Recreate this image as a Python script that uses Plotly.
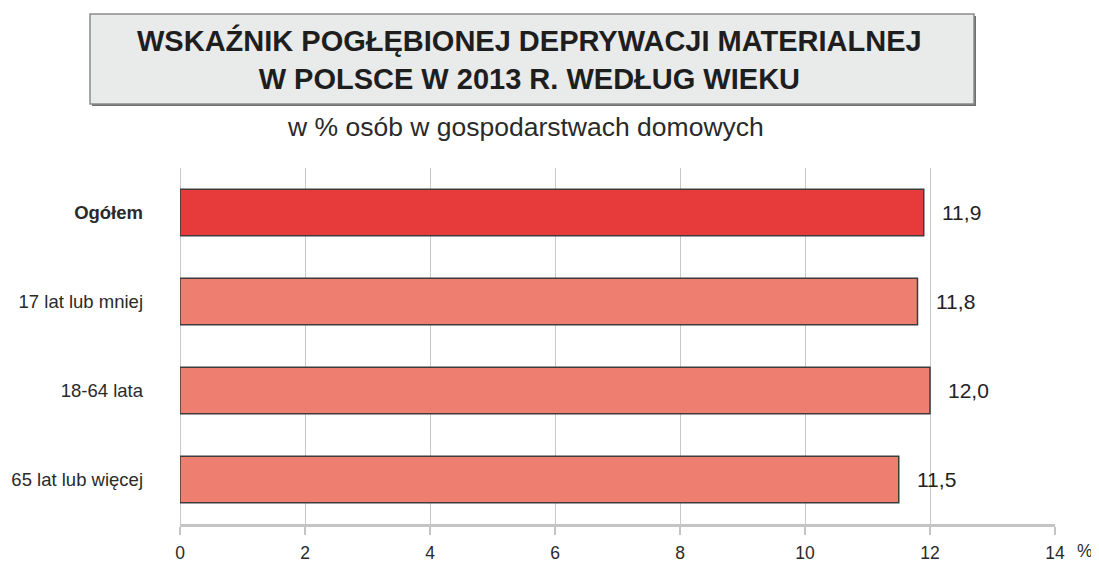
import plotly.graph_objects as go

# dane z wykresu
categories = ['Ogółem', '17 lat lub mniej', '18-64 lata', '65 lat lub więcej']
tick_labels = ['<b>Ogółem</b>', '17 lat lub mniej', '18-64 lata', '65 lat lub więcej']
values = [11.9, 11.8, 12.0, 11.5]
bar_colors = ['#e63b3a', '#ee7e6f', '#ee7e6f', '#ee7e6f']
x_ticks = [0, 2, 4, 6, 8, 10, 12, 14]

title_text = 'WSKAŹNIK POGŁĘBIONEJ DEPRYWACJI MATERIALNEJ<br>W POLSCE W 2013 R. WEDŁUG WIEKU'
subtitle_text = 'w % osób w gospodarstwach domowych'

# strona ma 8 px marginesu body, więc wykres jest odpowiednio mniejszy
OFF = 8
W, H = 1099 - OFF, 563 - OFF
m_l, m_r, m_t, m_b = 180 - OFF, 44, 168 - OFF, 39
plot_w = W - m_l - m_r
plot_h = H - m_t - m_b


def px_x(p):
    # piksel strony -> współrzędne paper
    return (p - OFF - m_l) / plot_w


def px_y(p):
    return (H - m_b - (p - OFF)) / plot_h


fig = go.Figure()

fig.add_trace(
    go.Bar(
        x=values,
        y=categories,
        orientation='h',
        width=0.52,
        marker=dict(color=bar_colors, line=dict(color='#3c3c3c', width=1.5)),
        hoverinfo='skip',
    )
)

# etykiety wartości
for cat, v in zip(categories, values):
    fig.add_annotation(
        x=v, y=cat, xref='x', yref='y',
        text=f'{v:.1f}'.replace('.', ','),
        showarrow=False, xanchor='left', xshift=16,
        font=dict(size=21, color='#222222'),
    )

# ramka tytułu z cieniem
fig.add_shape(type='rect', xref='paper', yref='paper',
              x0=px_x(92), x1=px_x(976), y0=px_y(106), y1=px_y(16),
              fillcolor='#6e6e6e', line=dict(width=0), layer='below')
fig.add_shape(type='rect', xref='paper', yref='paper',
              x0=px_x(90), x1=px_x(974), y0=px_y(104), y1=px_y(14),
              fillcolor='#e9eaea', line=dict(color='#8c8c8c', width=1.5), layer='below')

fig.add_annotation(
    x=px_x(529), y=px_y(59), xref='paper', yref='paper',
    text=f'<b>{title_text}</b>', showarrow=False,
    font=dict(size=29, color='#1e1e1e'), align='center',
    xanchor='center', yanchor='middle',
)
fig.add_annotation(
    x=px_x(525), y=px_y(127), xref='paper', yref='paper',
    text=subtitle_text, showarrow=False,
    font=dict(size=26.5, color='#2a2a2a'),
    xanchor='center', yanchor='middle',
)
fig.add_annotation(
    x=px_x(1075), y=px_y(551), xref='paper', yref='paper',
    text='%', showarrow=False, font=dict(size=17.5, color='#2a2a2a'),
    xanchor='left', yanchor='middle',
)

fig.update_layout(
    width=W, height=H,
    margin=dict(l=m_l, r=m_r, t=m_t, b=m_b, autoexpand=False),
    paper_bgcolor='white', plot_bgcolor='white',
    font=dict(family='Liberation Sans, Arial, sans-serif', color='#2a2a2a'),
    showlegend=False,
)

fig.update_xaxes(
    range=[0, 14],
    tickvals=x_ticks,
    ticktext=[str(t) for t in x_ticks],
    showgrid=True, gridcolor='#c8c8c8', gridwidth=1,
    zeroline=True, zerolinecolor='#c8c8c8', zerolinewidth=1,
    showline=True, linecolor='#c4c4c4', linewidth=3,
    ticks='outside', ticklen=8, tickcolor='#c4c4c4', tickwidth=1.5,
    tickfont=dict(size=17.5, color='#2a2a2a'),
    ticklabelstandoff=3,
    automargin=False,
    fixedrange=True,
)
fig.update_yaxes(
    categoryorder='array', categoryarray=categories,
    tickvals=categories, ticktext=tick_labels,
    range=[3.5, -0.5],
    showgrid=False, zeroline=False, showline=False,
    tickfont=dict(size=18.5, color='#2a2a2a'),
    ticks='', ticklabelstandoff=36,
    automargin=False,
    fixedrange=True,
)

fig.write_html("out.html")
